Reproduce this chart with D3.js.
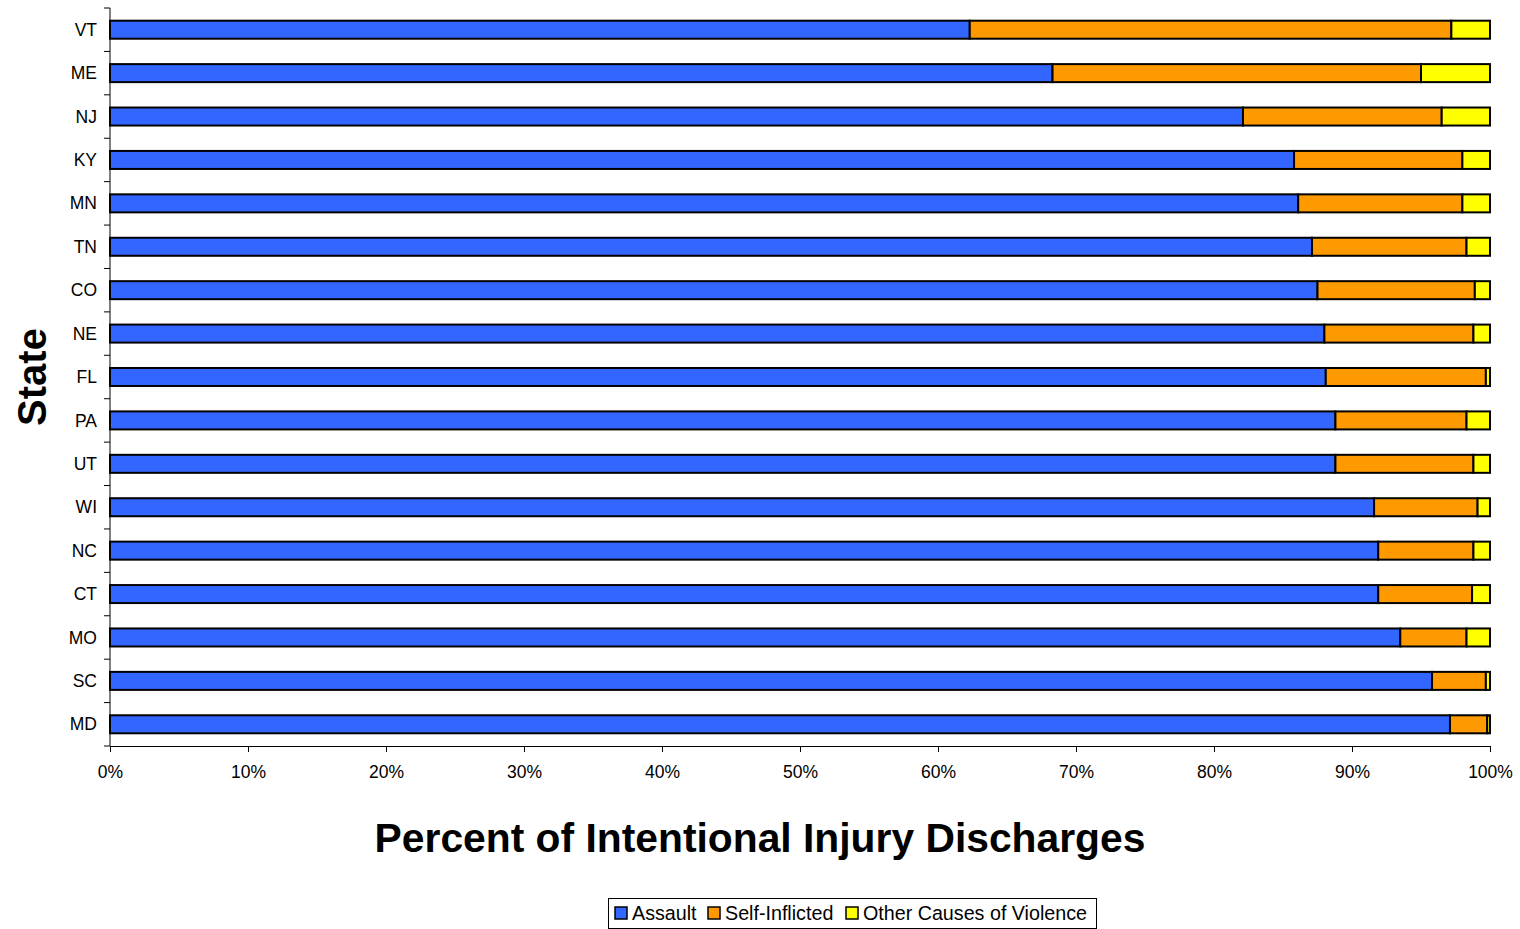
<!DOCTYPE html>
<html>
<head>
<meta charset="utf-8">
<script src="https://cdn.jsdelivr.net/npm/d3@7"></script>
<style>
  html, body { margin: 0; padding: 0; background: #fff; }
  svg { display: block; font-family: "Liberation Sans", Arial, sans-serif; }
</style>
</head>
<body>
<svg id="chart" width="1520" height="929"></svg>
<script>
// States, top to bottom
const states = ["VT","ME","NJ","KY","MN","TN","CO","NE","FL","PA","UT","WI","NC","CT","MO","SC","MD"];
// Share of intentional injury discharges (%) per cause
const assault      = [62.3, 68.3, 82.1, 85.8, 86.1, 87.1, 87.5, 88.0, 88.1, 88.8, 88.8, 91.6, 91.9, 91.9, 93.5, 95.8, 97.1];
const selfInflicted= [34.9, 26.7, 14.4, 12.2, 11.9, 11.2, 11.4, 10.8, 11.6,  9.5, 10.0,  7.5,  6.9,  6.8,  4.8,  3.9,  2.7];
const otherCauses  = [ 2.8,  5.0,  3.5,  2.0,  2.0,  1.7,  1.1,  1.2,  0.3,  1.7,  1.2,  0.9,  1.2,  1.3,  1.7,  0.3,  0.2];
const seriesNames  = ["Assault", "Self-Inflicted", "Other Causes of Violence"];
const seriesColors = ["#3366FF", "#FF9900", "#FFFF00"];
const xTicks = [0,10,20,30,40,50,60,70,80,90,100];

const svg = d3.select("#chart");
const plot = { left: 110, right: 1490, top: 8, bottom: 746 };

const x = d3.scaleLinear().domain([0, 100]).range([plot.left, plot.right]);
const y = d3.scaleBand().domain(states).range([plot.top, plot.bottom])
  .paddingInner(0.585).paddingOuter(0.2925);

const rows = states.map((s, i) => ({ state: s, a: assault[i], s: selfInflicted[i], o: otherCauses[i] }));
const stack = d3.stack().keys(["a", "s", "o"])(rows);

// Stacked bars
const layers = svg.append("g").selectAll("g").data(stack).join("g")
  .attr("fill", (d, i) => seriesColors[i]);
layers.selectAll("rect").data(d => d).join("rect")
  .attr("x", d => x(d[0]))
  .attr("y", d => y(d.data.state))
  .attr("width", d => x(d[1]) - x(d[0]))
  .attr("height", y.bandwidth())
  .attr("stroke", "#000")
  .attr("stroke-width", 2);

// Y axis: ticks sit on category boundaries
const yAxis = svg.append("g");
yAxis.append("line")
  .attr("x1", plot.left).attr("x2", plot.left)
  .attr("y1", plot.top).attr("y2", plot.bottom)
  .attr("stroke", "#000").attr("stroke-width", 1);
const bounds = d3.range(states.length + 1).map(i => plot.top + i * (plot.bottom - plot.top) / states.length);
yAxis.selectAll("line.tk").data(bounds).join("line").attr("class", "tk")
  .attr("x1", plot.left - 6).attr("x2", plot.left)
  .attr("y1", d => d).attr("y2", d => d)
  .attr("stroke", "#000").attr("stroke-width", 1);
yAxis.selectAll("text").data(states).join("text")
  .attr("x", 97)
  .attr("y", d => y(d) + y.bandwidth() / 2)
  .attr("dy", "0.35em")
  .attr("text-anchor", "end")
  .attr("font-size", 17.5)
  .text(d => d);

// X axis
const xAxis = svg.append("g").attr("transform", `translate(0,${plot.bottom})`)
  .call(d3.axisBottom(x).tickValues(xTicks).tickSize(6).tickPadding(14).tickFormat(d => d + "%"));
xAxis.select(".domain").attr("stroke", "#000").attr("d", `M${plot.left},0.5H${plot.right}`);
xAxis.selectAll(".tick line").attr("stroke", "#000");
xAxis.selectAll(".tick text").attr("font-size", 17.5).attr("fill", "#000")
  .attr("font-family", "Liberation Sans, Arial, sans-serif");

// Axis titles
svg.append("text")
  .attr("x", 760).attr("y", 852)
  .attr("text-anchor", "middle")
  .attr("font-size", 40.8).attr("font-weight", "bold")
  .text("Percent of Intentional Injury Discharges");
svg.append("text")
  .attr("transform", "translate(46,377) rotate(-90)")
  .attr("text-anchor", "middle")
  .attr("font-size", 40).attr("font-weight", "bold")
  .text("State");

// Legend
const legend = svg.append("g");
legend.append("rect")
  .attr("x", 608.5).attr("y", 898.5).attr("width", 488).attr("height", 30)
  .attr("fill", "#fff").attr("stroke", "#000").attr("stroke-width", 1);
const legendX = [615, 708, 846];
const items = legend.selectAll("g.item").data(seriesNames).join("g").attr("class", "item")
  .attr("transform", (d, i) => `translate(${legendX[i]},913)`);
items.append("rect")
  .attr("x", 0).attr("y", -6).attr("width", 12).attr("height", 12)
  .attr("fill", (d, i) => seriesColors[i]).attr("stroke", "#000").attr("stroke-width", 1.5);
items.append("text")
  .attr("x", 17).attr("dy", "0.36em")
  .attr("font-size", 19.7)
  .text(d => d);
</script>
</body>
</html>
